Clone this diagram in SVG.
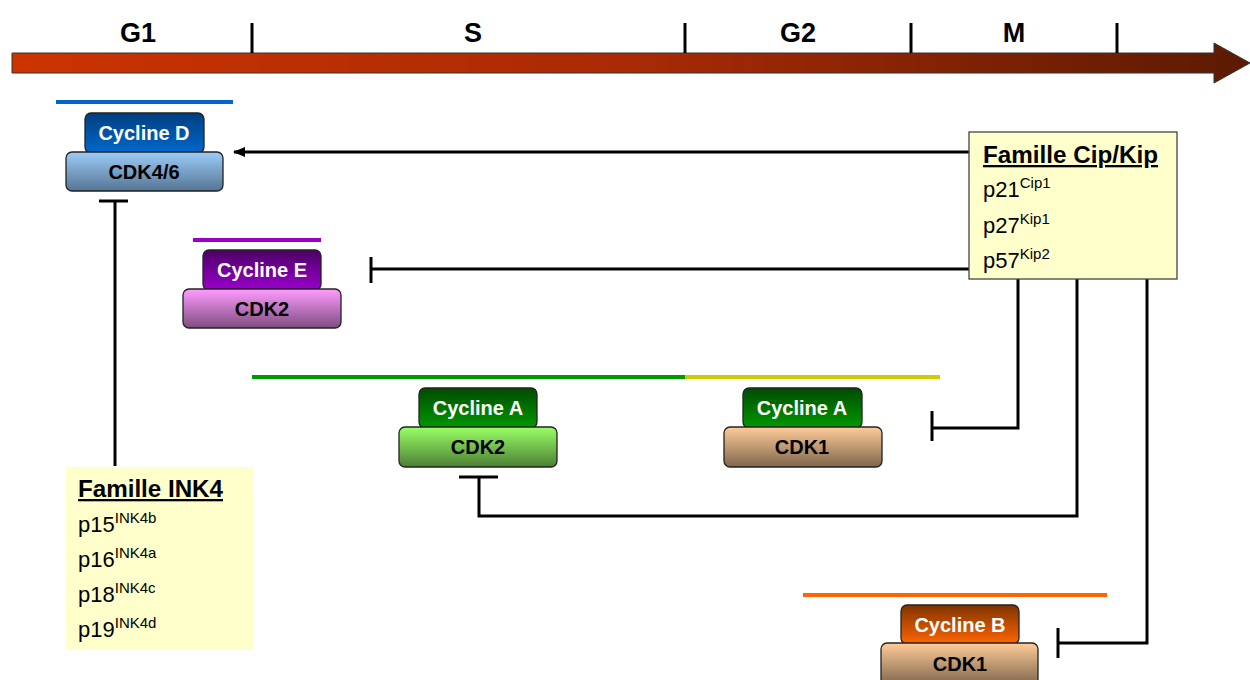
<svg xmlns="http://www.w3.org/2000/svg" width="1250" height="680" viewBox="0 0 1250 680">
  <defs>
    <linearGradient id="gTime" x1="0" y1="0" x2="1" y2="0">
      <stop offset="0" stop-color="#cc3300"/>
      <stop offset="0.5" stop-color="#a82a05"/>
      <stop offset="1" stop-color="#5c1a02"/>
    </linearGradient>
    <linearGradient id="gCycD" x1="0" y1="0" x2="0" y2="1">
      <stop offset="0" stop-color="#003f7f"/>
      <stop offset="1" stop-color="#0068cc"/>
    </linearGradient>
    <linearGradient id="gCdk46" x1="0" y1="0" x2="0" y2="1">
      <stop offset="0" stop-color="#9dccf8"/>
      <stop offset="1" stop-color="#547595"/>
    </linearGradient>
    <linearGradient id="gCycE" x1="0" y1="0" x2="0" y2="1">
      <stop offset="0" stop-color="#4c0066"/>
      <stop offset="1" stop-color="#9a00cc"/>
    </linearGradient>
    <linearGradient id="gCdk2E" x1="0" y1="0" x2="0" y2="1">
      <stop offset="0" stop-color="#ff9cff"/>
      <stop offset="1" stop-color="#7f4c7f"/>
    </linearGradient>
    <linearGradient id="gCycA" x1="0" y1="0" x2="0" y2="1">
      <stop offset="0" stop-color="#004c00"/>
      <stop offset="1" stop-color="#009900"/>
    </linearGradient>
    <linearGradient id="gCdk2A" x1="0" y1="0" x2="0" y2="1">
      <stop offset="0" stop-color="#99ff66"/>
      <stop offset="1" stop-color="#4c7f33"/>
    </linearGradient>
    <linearGradient id="gCdk1" x1="0" y1="0" x2="0" y2="1">
      <stop offset="0" stop-color="#ffcc99"/>
      <stop offset="1" stop-color="#7f664c"/>
    </linearGradient>
    <linearGradient id="gCycB" x1="0" y1="0" x2="0" y2="1">
      <stop offset="0" stop-color="#7f3300"/>
      <stop offset="1" stop-color="#ff6600"/>
    </linearGradient>
    <marker id="arrowHead" markerWidth="12" markerHeight="10" refX="11" refY="5" orient="auto" markerUnits="userSpaceOnUse">
      <path d="M0,0 L12,5 L0,10 Z" fill="#000"/>
    </marker>
    <style>
      .phase { font-family: "Liberation Sans", Arial, sans-serif; font-weight: bold; font-size: 27px; fill: #000; text-anchor: middle; }
      .tick { stroke: #000; stroke-width: 3; }
      .box { stroke: #222; stroke-width: 1.3; }
      .cyc { font-family: "Liberation Sans", Arial, sans-serif; font-weight: bold; font-size: 20px; fill: #fff; text-anchor: middle; }
      .cdk { font-family: "Liberation Sans", Arial, sans-serif; font-weight: bold; font-size: 20px; fill: #000; text-anchor: middle; }
      .fam { fill: #ffffcc; }
      .famTitle { font-family: "Liberation Sans", Arial, sans-serif; font-weight: bold; font-size: 23px; fill: #000; text-decoration: underline; }
      .inh { font-family: "Liberation Sans", Arial, sans-serif; font-size: 22px; fill: #000; }
      .sup { font-size: 15px; }
      .link { fill: none; stroke: #000; stroke-width: 3; }
      .phaseBar { stroke-width: 4; }
    </style>
  </defs>

  <!-- cell cycle time axis -->
  <g id="timeline">
    <path d="M12,53 L1214,53 L1214,43 L1250,63 L1214,83 L1214,73 L12,73 Z" fill="url(#gTime)" stroke="#333" stroke-width="1"/>
    <line class="tick" x1="252" y1="23" x2="252" y2="53"/>
    <line class="tick" x1="685" y1="23" x2="685" y2="53"/>
    <line class="tick" x1="911" y1="23" x2="911" y2="53"/>
    <line class="tick" x1="1117" y1="23" x2="1117" y2="53"/>
    <text class="phase" x="138" y="42">G1</text>
    <text class="phase" x="473" y="42">S</text>
    <text class="phase" x="798" y="42">G2</text>
    <text class="phase" x="1014" y="42">M</text>
  </g>

  <!-- activity windows -->
  <g id="phase-bars">
    <line class="phaseBar" x1="56" y1="102" x2="233" y2="102" stroke="#0066cc"/>
    <line class="phaseBar" x1="193" y1="240" x2="321" y2="240" stroke="#9900cc"/>
    <line class="phaseBar" x1="252" y1="377" x2="685" y2="377" stroke="#009900"/>
    <line class="phaseBar" x1="685" y1="377" x2="940" y2="377" stroke="#cccc00"/>
    <line class="phaseBar" x1="803" y1="595" x2="1107" y2="595" stroke="#ff6600"/>
  </g>

  <!-- connectors -->
  <g id="connectors">
    <line class="link" x1="970" y1="152" x2="234" y2="152" marker-end="url(#arrowHead)"/>
    <line class="link" x1="970" y1="269" x2="371" y2="269"/>
    <line class="link" x1="371" y1="257" x2="371" y2="283"/>
    <line class="link" x1="115" y1="466" x2="115" y2="201"/>
    <line class="link" x1="99" y1="201" x2="128" y2="201"/>
    <polyline class="link" points="1018,279 1018,428 932,428"/>
    <line class="link" x1="932" y1="411" x2="932" y2="441"/>
    <polyline class="link" points="1077,279 1077,516 479,516 479,477"/>
    <line class="link" x1="459" y1="477" x2="498" y2="477"/>
    <polyline class="link" points="1147,279 1147,643 1058,643"/>
    <line class="link" x1="1058" y1="628" x2="1058" y2="658"/>
  </g>

  <!-- Cycline D / CDK4/6 -->
  <g id="cyclineD-cdk46">
    <rect class="box" x="85" y="113" width="119" height="40" rx="6" fill="url(#gCycD)"/>
    <rect class="box" x="66" y="152" width="157" height="39" rx="6" fill="url(#gCdk46)"/>
    <text class="cyc" x="144" y="140">Cycline D</text>
    <text class="cdk" x="144" y="179">CDK4/6</text>
  </g>

  <!-- Cycline E / CDK2 -->
  <g id="cyclineE-cdk2">
    <rect class="box" x="203" y="250" width="118" height="40" rx="6" fill="url(#gCycE)"/>
    <rect class="box" x="183" y="289" width="158" height="39" rx="6" fill="url(#gCdk2E)"/>
    <text class="cyc" x="262" y="277">Cycline E</text>
    <text class="cdk" x="262" y="316">CDK2</text>
  </g>

  <!-- Cycline A / CDK2 -->
  <g id="cyclineA-cdk2">
    <rect class="box" x="419" y="388" width="118" height="40" rx="6" fill="url(#gCycA)"/>
    <rect class="box" x="399" y="427" width="158" height="40" rx="6" fill="url(#gCdk2A)"/>
    <text class="cyc" x="478" y="415">Cycline A</text>
    <text class="cdk" x="478" y="454">CDK2</text>
  </g>

  <!-- Cycline A / CDK1 -->
  <g id="cyclineA-cdk1">
    <rect class="box" x="743" y="388" width="119" height="40" rx="6" fill="url(#gCycA)"/>
    <rect class="box" x="724" y="427" width="158" height="40" rx="6" fill="url(#gCdk1)"/>
    <text class="cyc" x="802" y="415">Cycline A</text>
    <text class="cdk" x="802" y="454">CDK1</text>
  </g>

  <!-- Cycline B / CDK1 -->
  <g id="cyclineB-cdk1">
    <rect class="box" x="901" y="605" width="118" height="39" rx="6" fill="url(#gCycB)"/>
    <rect class="box" x="881" y="643" width="157" height="42" rx="6" fill="url(#gCdk1)"/>
    <text class="cyc" x="960" y="632">Cycline B</text>
    <text class="cdk" x="960" y="671">CDK1</text>
  </g>

  <!-- Cip/Kip inhibitors -->
  <g id="famille-cipkip">
    <rect class="fam" x="969" y="132" width="208" height="147" stroke="#444" stroke-width="1.3"/>
    <text class="famTitle" x="983" y="163" textLength="175" lengthAdjust="spacingAndGlyphs">Famille Cip/Kip</text>
    <text class="inh" x="983" y="197">p21<tspan class="sup" dy="-9">Cip1</tspan></text>
    <text class="inh" x="983" y="233">p27<tspan class="sup" dy="-9">Kip1</tspan></text>
    <text class="inh" x="983" y="268">p57<tspan class="sup" dy="-9">Kip2</tspan></text>
  </g>

  <!-- INK4 inhibitors -->
  <g id="famille-ink4">
    <rect class="fam" x="66" y="467" width="187" height="182"/>
    <text class="famTitle" x="78" y="497" textLength="145" lengthAdjust="spacingAndGlyphs">Famille INK4</text>
    <text class="inh" x="78" y="532">p15<tspan class="sup" dy="-9">INK4b</tspan></text>
    <text class="inh" x="78" y="567">p16<tspan class="sup" dy="-9">INK4a</tspan></text>
    <text class="inh" x="78" y="602">p18<tspan class="sup" dy="-9">INK4c</tspan></text>
    <text class="inh" x="78" y="637">p19<tspan class="sup" dy="-9">INK4d</tspan></text>
  </g>
</svg>
